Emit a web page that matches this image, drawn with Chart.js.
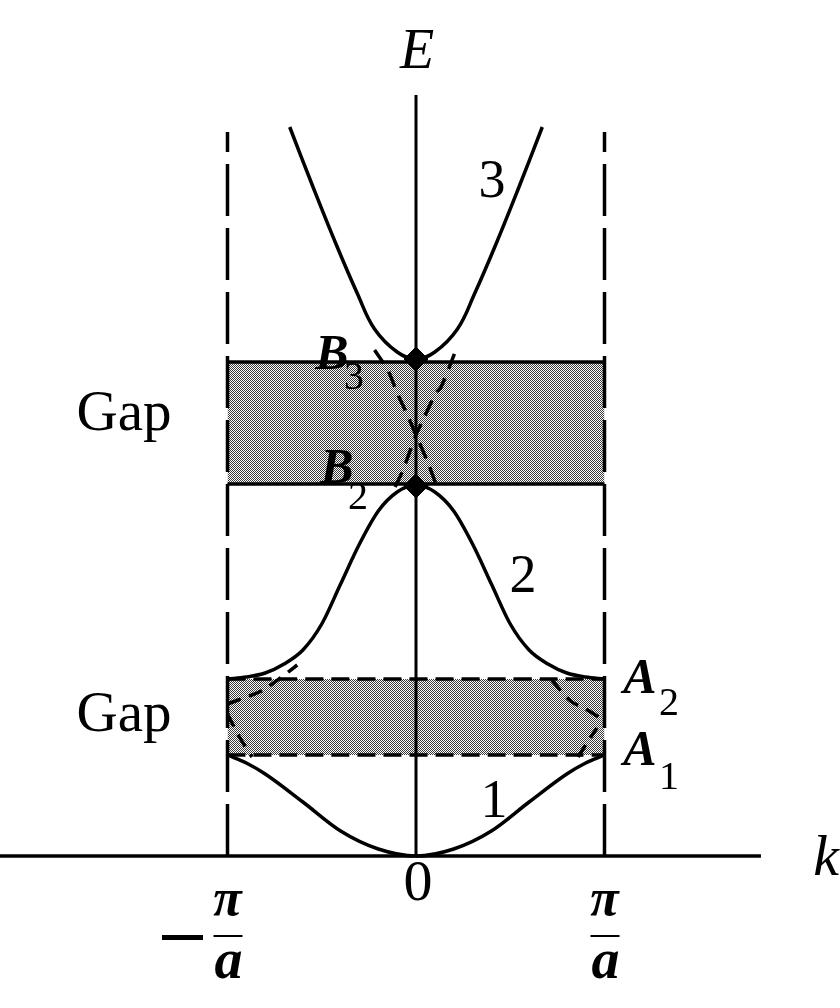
<!DOCTYPE html>
<html>
<head>
<meta charset="utf-8">
<script src="https://cdn.jsdelivr.net/npm/chart.js@4.4.1/dist/chart.umd.min.js"></script>
<style>
  html, body { margin: 0; padding: 0; background: #fff; }
  canvas { display: block; }
</style>
</head>
<body>
<canvas id="bandChart" width="840" height="1008"></canvas>
<script>
/* Data: k in units of pi/a, E in arbitrary units */
const kBand1 = [-1, -0.9, -0.8, -0.6, -0.4, -0.2, 0, 0.2, 0.4, 0.6, 0.8, 0.9, 1];
const eBand1 = [1.01, 0.93, 0.82, 0.54, 0.25, 0.07, 0, 0.07, 0.25, 0.54, 0.82, 0.93, 1.01];

const kBand2 = [-1, -0.9, -0.8, -0.7, -0.6, -0.5, -0.4, -0.3, -0.2, -0.1, 0, 0.1, 0.2, 0.3, 0.4, 0.5, 0.6, 0.7, 0.8, 0.9, 1];
const eBand2 = [1.77, 1.79, 1.83, 1.92, 2.06, 2.32, 2.72, 3.12, 3.45, 3.64, 3.71, 3.64, 3.45, 3.12, 2.72, 2.32, 2.06, 1.92, 1.83, 1.79, 1.77];

const kBand3 = [-0.67, -0.54, -0.42, -0.31, -0.22, -0.1, 0, 0.1, 0.22, 0.31, 0.42, 0.54, 0.67];
const eBand3 = [7.29, 6.66, 6.1, 5.62, 5.27, 5.04, 4.97, 5.04, 5.27, 5.62, 6.1, 6.66, 7.29];

// free-electron (dashed) pieces near the gaps
const kFreeL1 = [-1, -0.93, -0.82, -0.72, -0.63];
const eFreeL1 = [1.52, 1.57, 1.65, 1.78, 1.91];
const kFreeL2 = [-1, -0.94, -0.87];
const eFreeL2 = [1.42, 1.2, 0.99];
const kFreeR1 = [0.72, 0.82, 0.9, 0.97];
const eFreeR1 = [1.76, 1.55, 1.47, 1.39];
const kFreeR2 = [0.86, 0.91, 0.96];
const eFreeR2 = [0.99, 1.14, 1.28];
const kFreeP = [-0.22, -0.15, -0.095, -0.053, 0, 0.064, 0.117];
const eFreeP = [5.06, 4.86, 4.61, 4.44, 4.21, 3.93, 3.66];
const kFreeQ = [-0.111, -0.069, 0, 0.037, 0.106, 0.133, 0.212];
const eFreeQ = [3.69, 3.86, 4.21, 4.36, 4.63, 4.69, 5.06];

const gapUpper = [3.72, 4.94];
const gapLower = [1.01, 1.77];
const eB = [3.70, 4.97];          // B2, B3
const zoneEdges = [-1, 1];
const kTicks = [-1, 0, 1];
const eAxisTop = 7.61;
const kAxisRange = [-2.21, 1.83];
const zoneTop = 7.24;


/* helpers */
const pts = (ks, es) => ks.map((k, i) => ({x: k, y: es[i]}));

function makeShade() {
    const c = document.createElement('canvas');
    c.width = 2; c.height = 2;
    const g = c.getContext('2d');
    g.fillStyle = '#fff';
    g.fillRect(0, 0, 2, 2);
    g.fillStyle = '#3a3a3a';
    g.fillRect(0, 0, 1, 1);
    g.fillRect(1, 1, 1, 1);
    return g.createPattern(c, 'repeat');
}
const shade = makeShade();

const solid = (data, w, smooth) => ({
    data, showLine: true, borderColor: '#000', borderWidth: w || 3.5,
    pointRadius: 0, fill: false,
    ...(smooth === 'mono' ? {cubicInterpolationMode: 'monotone'} : {tension: 0.4})
});
const dashed = (data, dash) => ({
    data, showLine: true, borderColor: '#000', borderWidth: 3.5,
    borderDash: dash, pointRadius: 0, tension: 0.3, fill: false
});


/* text labels */
const labels = {
    id: 'labels',
    afterDraw(chart) {
        const ctx = chart.ctx;
        const xs = chart.scales.x;
        ctx.save();
        ctx.fillStyle = '#000';
        ctx.textAlign = 'center';
        ctx.textBaseline = 'middle';
        const txt = (s, x, y, font) => { ctx.font = font; ctx.fillText(s, x, y); };

        txt('E', 417, 53, 'italic 56px "Liberation Serif"');
        txt('k', 826, 860, 'italic 58px "Liberation Serif"');

        ctx.textBaseline = 'alphabetic';
        txt('Gap', 124, 430, '57px "Liberation Serif"');
        txt('Gap', 124, 731, '57px "Liberation Serif"');
        ctx.textBaseline = 'middle';

        txt('3', 492, 183, '54px "Liberation Serif"');
        txt('2', 523, 578, '54px "Liberation Serif"');
        txt('1', 494, 803, '54px "Liberation Serif"');

        txt('B', 332, 356, 'italic bold 50px "Liberation Serif"');
        txt('3', 354, 378, '40px "Liberation Serif"');
        txt('B', 337, 470, 'italic bold 50px "Liberation Serif"');
        txt('2', 358, 498, '40px "Liberation Serif"');
        txt('A', 640, 680, 'italic bold 50px "Liberation Serif"');
        txt('2', 669, 704, '40px "Liberation Serif"');
        txt('A', 640, 752, 'italic bold 50px "Liberation Serif"');
        txt('1', 669, 778, '40px "Liberation Serif"');

        // tick labels
        kTicks.forEach(t => {
            const px = xs.getPixelForValue(t);
            if (t === 0) {
                txt('0', px + 2, 885, '58px "Liberation Serif"');
                return;
            }
            txt('\u03C0', px, 902, 'italic bold 52px "Liberation Serif"');
            ctx.fillRect(px - 14, 935, 29, 2);
            txt('a', px + 1, 964, 'italic bold 56px "Liberation Serif"');
            if (t < 0) ctx.fillRect(162, 935, 41, 5);
        });
        ctx.restore();
    }
};


/* Create chart */
const datasets = [
    // markers
    {
        data: [{x: 0, y: eB[0]}, {x: 0, y: eB[1]}],
        pointStyle: 'rectRot', pointRadius: 12,
        backgroundColor: '#000', borderColor: '#000', showLine: false
    },
    solid(pts(kBand1, eBand1), 3.5, 'mono'),
    solid(pts(kBand2, eBand2), 3.5, 'mono'),
    solid(pts(kBand3, eBand3)),
    dashed(pts(kFreeL1, eFreeL1), [14, 9]),
    dashed(pts(kFreeL2, eFreeL2), [14, 9]),
    dashed(pts(kFreeR1, eFreeR1), [14, 9]),
    dashed(pts(kFreeR2, eFreeR2), [14, 9]),
    dashed(pts(kFreeP, eFreeP), [16, 10]),
    dashed(pts(kFreeQ, eFreeQ), [16, 10]),
    // axes
    solid([{x: 0, y: 0}, {x: 0, y: eAxisTop}], 3),
    solid([{x: kAxisRange[0], y: 0}, {x: kAxisRange[1], y: 0}], 3.5),
    // zone boundaries
    ...zoneEdges.map(k => ({
        data: [{x: k, y: 0}, {x: k, y: zoneTop}], showLine: true,
        borderColor: '#000', borderWidth: 3.5, borderDash: [52, 12],
        pointRadius: 0, fill: false
    })),
    // gap edges
    ...gapUpper.map(e => solid([{x: -1, y: e}, {x: 1, y: e}], 3.5)),
    ...gapLower.map(e => dashed([{x: -1, y: e}, {x: 1, y: e}], [18, 8])),
    // shaded gaps
    {
        data: [{x: -1, y: gapUpper[1]}, {x: 1, y: gapUpper[1]}], showLine: true,
        borderWidth: 0, pointRadius: 0, backgroundColor: shade,
        fill: {value: gapUpper[0]}
    },
    {
        data: [{x: -1, y: gapLower[1]}, {x: 1, y: gapLower[1]}], showLine: true,
        borderWidth: 0, pointRadius: 0, backgroundColor: shade,
        fill: {value: gapLower[0]}
    }
];

const bandChart = new Chart('bandChart', {
    type: 'scatter',
    data: {datasets},
    plugins: [labels],
    options: {
        responsive: false,
        animation: false,
        layout: {padding: 0, autoPadding: false},
        scales: {
            x: {type: 'linear', display: false, min: -416 / 188.5, max: (840 - 416) / 188.5},
            y: {type: 'linear', display: false, min: -1.52, max: 8.56}
        },
        plugins: {
            legend: {display: false},
            tooltip: {enabled: false}
        }
    }
});
</script>
</body>
</html>
